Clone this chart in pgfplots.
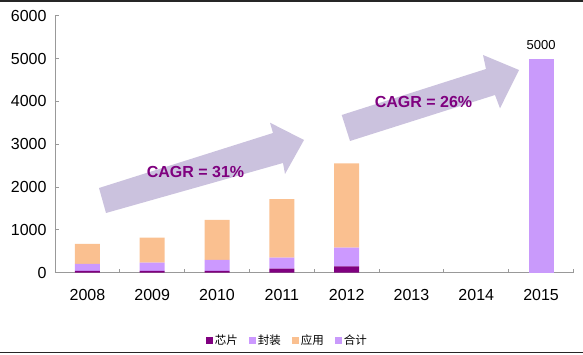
\documentclass[border=0pt]{standalone}
\usepackage{fontspec}
\setmainfont{Liberation Sans}
\newfontfamily\cjk{Noto Sans CJK SC}
\usepackage{pgfplots}
\usepackage{pgfplotstable}
\pgfplotsset{compat=1.18}
\definecolor{chip}{HTML}{800080}
\definecolor{pkg}{HTML}{CC99FF}
\definecolor{app}{HTML}{FAC090}
\definecolor{tot}{HTML}{C99AFB}
\definecolor{arr}{HTML}{CBC2DE}
\definecolor{cagr}{HTML}{7F007F}
\pgfplotstableread{
x chip pkg app total
0 40 164 468 0
1 40 194 586 0
2 40 257 937 0
3 95 257 1366 0
4 150 436 1964 0
7 0 0 0 5000
}\data
\begin{document}
\begin{tikzpicture}
\path[use as bounding box] (0,0) rectangle (583pt,355pt);
\begin{scope}[x=1pt,y=-1pt,yshift=355pt]
\fill[arr] (99,188) -- (273,133) -- (270,122.7) -- (304,140) -- (285,174) -- (283,163) -- (106,213) -- cycle;
\fill[arr] (341.7,115) -- (486,69) -- (483,55) -- (519,70) -- (500,108.3) -- (495,95) -- (350,141) -- cycle;
\node[font=\bfseries\fontsize{16}{18}\selectfont, text=cagr, inner sep=0pt] at (195.5,171.7) {CAGR = 31\%};
\node[font=\bfseries\fontsize{16}{18}\selectfont, text=cagr, inner sep=0pt] at (423.5,101.7) {CAGR = 26\%};
\draw[line width=1.5pt, black!85] (0,1) -- (583,1);
\draw[line width=1.5pt, black!85] (0,352.5) -- (583,352.5);
\end{scope}
\begin{axis}[
  at={(55pt,82.3pt)}, anchor=south west, scale only axis,
  width=518.5pt, height=257pt,
  xmin=-0.5, xmax=7.5, ymin=0, ymax=6000,
  ybar stacked, bar width=25pt,
  axis lines=left, axis line style={-, draw=gray!80, line width=0.8pt},
  tick align=inside, major tick length=4pt,
  tick style={draw=gray!80, line width=0.8pt},
  ytick={0,1000,...,6000},
  xtick={-0.5,0.5,...,7.5}, xticklabels={},
  extra x ticks={0,1,2,3,4,5,6,7},
  extra x tick labels={2008,2009,2010,2011,2012,2013,2014,2015},
  extra x tick style={major tick length=0pt, xticklabel style={yshift=-13pt}},
  /pgf/number format/assume math mode=true,
  /pgf/number format/1000 sep={},
  ticklabel style={font=\fontsize{16}{18}\selectfont},
  yticklabel style={xshift=-5pt},
  legend columns=4,
  legend style={at={(0.448,-0.265)}, anchor=center, draw=none,
    font=\cjk\fontsize{11.5}{13}\selectfont,
    /tikz/every even column/.append style={column sep=9pt}},
  legend image code/.code={\fill[#1] (0pt,-3.5pt) rectangle (7pt,3.5pt);},
]
\addplot[fill=chip, draw=none] table[x=x, y=chip] {\data};
\addplot[fill=pkg, draw=none] table[x=x, y=pkg] {\data};
\addplot[fill=app, draw=none] table[x=x, y=app] {\data};
\addplot[fill=tot, draw=none] table[x=x, y=total] {\data};
\legend{芯片,封装,应用,合计}
\node[font=\fontsize{13}{15}\selectfont, anchor=south, inner sep=0pt] at (axis cs:7,5000) [yshift=9pt] {5000};
\end{axis}
\end{tikzpicture}
\end{document}
